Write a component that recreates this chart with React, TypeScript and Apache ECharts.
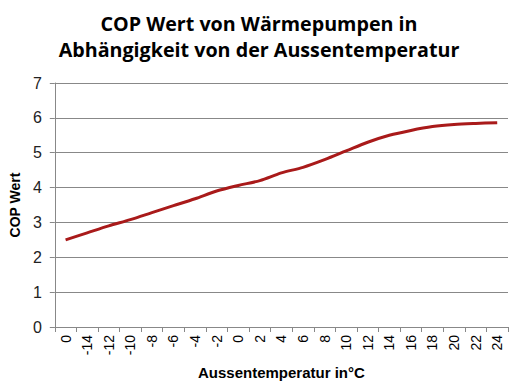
import React, { useEffect, useRef } from "react";
import * as echarts from "echarts";

const categories = ["0", "-14", "-12", "-10", "-8", "-6", "-4", "-2", "0", "2", "4", "6", "8", "10", "12", "14", "16", "18", "20", "22", "24"];
const copValues = [2.5, 2.7, 2.9, 3.08, 3.28, 3.48, 3.68, 3.9, 4.06, 4.2, 4.42, 4.58, 4.8, 5.05, 5.3, 5.5, 5.64, 5.75, 5.81, 5.84, 5.86];
const titleLines = ["COP Wert von Wärmepumpen in", "Abhängigkeit von der Aussentemperatur"];

export default function App() {
  const ref = useRef<HTMLDivElement>(null);
  useEffect(() => {
    const chart = echarts.init(ref.current!, null, { renderer: "svg" });
    chart.setOption({
      animation: false,
      backgroundColor: "#ffffff",
      title: {
        text: titleLines.join("\n"),
        left: 254,
        textAlign: "center",
        top: 5,
        textStyle: {
          fontFamily: "Open Sans",
          fontWeight: "bold",
          fontSize: 19.7,
          lineHeight: 26,
          color: "#000000",
        },
      },
      grid: { left: 53, right: 13, top: 83, bottom: 65, containLabel: false },
      xAxis: {
        type: "category",
        data: categories,
        boundaryGap: true,
        name: "Aussentemperatur in°C",
        nameLocation: "middle",
        nameGap: 38,
        nameTextStyle: { fontFamily: "Liberation Sans", fontWeight: "bold", fontSize: 15, color: "#000" },
        axisLine: { lineStyle: { color: "#888888", width: 1 } },
        axisTick: { show: true, length: 5, lineStyle: { color: "#888888" }, alignWithLabel: false },
        axisLabel: { rotate: 90, fontFamily: "Liberation Sans", fontSize: 14, color: "#000", margin: 8, interval: 0 },
        splitLine: { show: false },
      },
      yAxis: {
        type: "value",
        min: 0,
        max: 7,
        interval: 1,
        name: "COP Wert",
        nameLocation: "middle",
        nameGap: 30,
        nameRotate: 90,
        nameTextStyle: { fontFamily: "Liberation Sans", fontWeight: "bold", fontSize: 14, color: "#000" },
        axisLine: { show: true, lineStyle: { color: "#888888", width: 1 } },
        axisTick: { show: true, length: 5, lineStyle: { color: "#888888" } },
        axisLabel: { fontFamily: "Liberation Sans", fontSize: 16, color: "#222", margin: 13 },
        splitLine: { show: true, lineStyle: { color: "#888888", width: 1 } },
      },
      series: [
        {
          type: "line",
          data: copValues,
          smooth: 0.3,
          symbol: "none",
          lineStyle: { color: "#A91A1A", width: 3 },
        },
      ],
    });
    return () => chart.dispose();
  }, []);
  return <div ref={ref} style={{ position: "absolute", left: 0, top: 0, width: 521, height: 392 }} />;
}
